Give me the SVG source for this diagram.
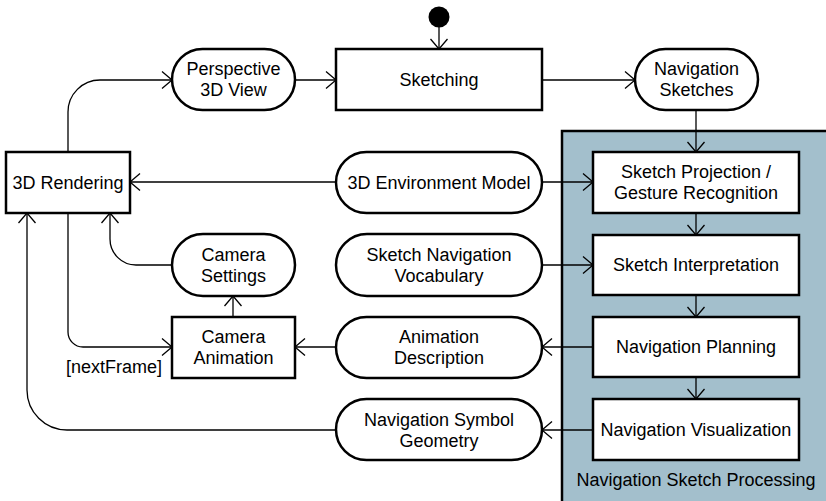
<svg xmlns="http://www.w3.org/2000/svg" width="826" height="501" viewBox="0 0 826 501">
<style>
.n{fill:#fff;stroke:#000;stroke-width:2.5}
.t{font-family:"Liberation Sans",Arial,sans-serif;font-size:18px;fill:#000;text-anchor:middle}
.c{fill:none;stroke:#000;stroke-width:1.3}
</style>
<defs>
<marker id="a" viewBox="-11 -10 13 20" refX="0" refY="0" markerWidth="13" markerHeight="20" markerUnits="userSpaceOnUse" orient="auto">
<path d="M -10 -8.5 L 0 0 L -10 8.5" fill="none" stroke="#000" stroke-width="1.3"/>
</marker>
</defs>
<rect width="826" height="501" fill="#fff"/>
<g id="container">
<rect x="562" y="131" width="290" height="380" fill="#a3bfcc" stroke="#000" stroke-width="2.5"/>
<text class="t" x="696" y="480" dy="0.35em">Navigation Sketch Processing</text>
</g>
<g id="start"><circle cx="439" cy="17" r="10.5" fill="#000"/></g>
<g id="sketching"><rect class="n" x="336" y="49" width="206" height="61"/><text class="t" x="439" y="80" dy="0.35em">Sketching</text></g>
<g id="perspective"><rect class="n" x="172" y="49" width="123" height="61" rx="30.5"/><text class="t" x="233.5" y="69" dy="0.35em">Perspective</text><text class="t" x="233.5" y="90" dy="0.35em">3D View</text></g>
<g id="navsketches"><rect class="n" x="635" y="49" width="123" height="61" rx="30.5"/><text class="t" x="696.5" y="69" dy="0.35em">Navigation</text><text class="t" x="696.5" y="90" dy="0.35em">Sketches</text></g>
<g id="rendering"><rect class="n" x="6" y="152" width="124" height="61"/><text class="t" x="68" y="182.5" dy="0.35em">3D Rendering</text></g>
<g id="envmodel"><rect class="n" x="336" y="152" width="206" height="61" rx="30.5"/><text class="t" x="439" y="182.5" dy="0.35em">3D Environment Model</text></g>
<g id="projection"><rect class="n" x="593" y="152" width="206" height="61"/><text class="t" x="696" y="172" dy="0.35em">Sketch Projection /</text><text class="t" x="696" y="193" dy="0.35em">Gesture Recognition</text></g>
<g id="camsettings"><rect class="n" x="172" y="234" width="123" height="62" rx="31"/><text class="t" x="233.5" y="254.5" dy="0.35em">Camera</text><text class="t" x="233.5" y="275.5" dy="0.35em">Settings</text></g>
<g id="vocab"><rect class="n" x="336" y="234" width="206" height="62" rx="31"/><text class="t" x="439" y="254.5" dy="0.35em">Sketch Navigation</text><text class="t" x="439" y="275.5" dy="0.35em">Vocabulary</text></g>
<g id="interpretation"><rect class="n" x="593" y="235" width="206" height="60"/><text class="t" x="696" y="265" dy="0.35em">Sketch Interpretation</text></g>
<g id="camanim"><rect class="n" x="172" y="317" width="123" height="61"/><text class="t" x="233.5" y="337" dy="0.35em">Camera</text><text class="t" x="233.5" y="358" dy="0.35em">Animation</text></g>
<g id="animdesc"><rect class="n" x="336" y="317" width="206" height="61" rx="30.5"/><text class="t" x="439" y="337" dy="0.35em">Animation</text><text class="t" x="439" y="358" dy="0.35em">Description</text></g>
<g id="planning"><rect class="n" x="593" y="317" width="206" height="60"/><text class="t" x="696" y="347" dy="0.35em">Navigation Planning</text></g>
<g id="symgeom"><rect class="n" x="336" y="399" width="206" height="61" rx="30.5"/><text class="t" x="439" y="419.5" dy="0.35em">Navigation Symbol</text><text class="t" x="439" y="440.5" dy="0.35em">Geometry</text></g>
<g id="visualization"><rect class="n" x="593" y="399" width="206" height="61"/><text class="t" x="696" y="429.5" dy="0.35em">Navigation Visualization</text></g>
<g id="connectors">
<path class="c" d="M 439 27 V 49" marker-end="url(#a)"/>
<path class="c" d="M 295 80 H 336" marker-end="url(#a)"/>
<path class="c" d="M 542 80 H 635" marker-end="url(#a)"/>
<path class="c" d="M 696 110 V 152" marker-end="url(#a)"/>
<path class="c" d="M 68 152 V 112 A 32 32 0 0 1 100 80 H 172" marker-end="url(#a)"/>
<path class="c" d="M 336 182 H 130" marker-end="url(#a)"/>
<path class="c" d="M 542 182 H 593" marker-end="url(#a)"/>
<path class="c" d="M 542 265 H 593" marker-end="url(#a)"/>
<path class="c" d="M 696 213 V 235" marker-end="url(#a)"/>
<path class="c" d="M 696 295 V 317" marker-end="url(#a)"/>
<path class="c" d="M 696 377 V 399" marker-end="url(#a)"/>
<path class="c" d="M 593 347 H 542" marker-end="url(#a)"/>
<path class="c" d="M 593 430 H 542" marker-end="url(#a)"/>
<path class="c" d="M 336 347 H 295" marker-end="url(#a)"/>
<path class="c" d="M 233 317 V 296" marker-end="url(#a)"/>
<path class="c" d="M 172 265 H 136 A 26 26 0 0 1 110 239 V 213" marker-end="url(#a)"/>
<path class="c" d="M 68 213 V 332 A 15 15 0 0 0 83 347 H 172" marker-end="url(#a)"/>
<path class="c" d="M 336 430 H 67 A 40 40 0 0 1 27 390 V 213" marker-end="url(#a)"/>
<text class="t" x="162" y="367" dy="0.35em" style="text-anchor:end">[nextFrame]</text>
</g>
</svg>
